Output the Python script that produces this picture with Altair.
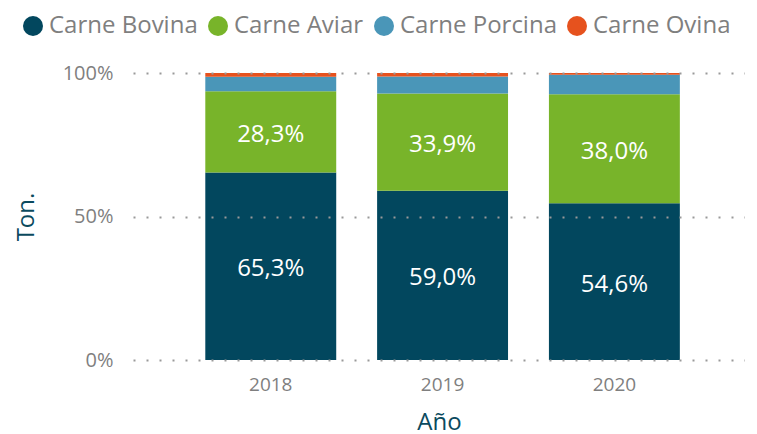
import altair as alt
import pandas as pd

years = ["2018", "2019", "2020"]
series = ["Carne Bovina", "Carne Aviar", "Carne Porcina", "Carne Ovina"]
colors = ["#02475E", "#78B42A", "#4A96B8", "#E6521E"]
bovina = [65.3, 59.0, 54.6]
aviar = [28.3, 33.9, 38.0]
porcina = [5.1, 5.9, 6.8]
ovina = [1.3, 1.2, 0.6]

rows = []
for i, y in enumerate(years):
    for k, (s, vals) in enumerate(zip(series, [bovina, aviar, porcina, ovina])):
        v = vals[i]
        rows.append({"year": y, "serie": s, "value": v, "order": k,
                     "label": f"{v:.1f}".replace(".", ",") + "%"})
df = pd.DataFrame(rows)

FONT = "Open Sans"
GRAY = "#7f7f7f"
TEAL = "#0b4a5e"

base = alt.Chart(df)

bars = base.mark_bar().encode(
    x=alt.X("year:N", title="Año",
            scale=alt.Scale(paddingInner=0.238, paddingOuter=0.4, align=0.526),
            axis=alt.Axis(labelAngle=0, labelFontSize=19, labelColor=GRAY, labelPadding=15,
                          titleFontSize=24, titleColor=TEAL, titleFontWeight="normal",
                          titlePadding=16, ticks=False, domain=False, labelFont=FONT, titleFont=FONT)),
    y=alt.Y("value:Q", stack="normalize", title="Ton.",
            scale=alt.Scale(domain=[0, 1]),
            axis=alt.Axis(values=[0, 0.5, 1], format="%", labelFontSize=20, labelColor=GRAY,
                          labelPadding=20, ticks=False, domain=False,
                          grid=True, gridDash=[2, 11], gridColor="#999999", gridWidth=2,
                          titleFontSize=24, titleColor=TEAL, titleFontWeight="normal",
                          titlePadding=24, labelFont=FONT, titleFont=FONT, zindex=1)),
    color=alt.Color("serie:N", scale=alt.Scale(domain=series, range=colors),
                    legend=alt.Legend(title=None, orient="none", direction="horizontal",
                                      legendX=-112, legendY=-59, symbolType="circle",
                                      symbolSize=400, symbolStrokeWidth=0,
                                      labelFontSize=24, labelColor=GRAY, labelFont=FONT,
                                      columnPadding=8, labelOffset=4, labelLimit=0)),
    order=alt.Order("order:Q"),
)

texts = base.transform_stack(
    stack="value", groupby=["year"], sort=[alt.SortField("order")],
    as_=["y0", "y1"], offset="normalize"
).transform_calculate(
    mid="(datum.y0 + datum.y1) / 2"
).transform_filter(
    "datum.order < 2"
).mark_text(color="white", fontSize=24, font=FONT, dy=3).encode(
    x=alt.X("year:N"),
    y=alt.Y("mid:Q"),
    text="label:N",
)

chart = alt.layer(bars, texts).properties(
    width=612, height=287,
    autosize=alt.AutoSizeParams(type="none"),
    padding={"left": 125, "top": 65, "right": 0, "bottom": 80},
).configure_view(stroke=None)

chart.save("out.html", embed_options={"renderer": "svg", "actions": False})
